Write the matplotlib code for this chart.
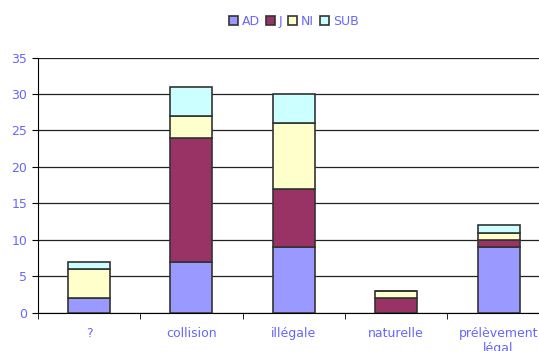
import matplotlib.pyplot as plt
import numpy as np

categories = ["?", "collision", "illégale", "naturelle", "prélèvement\nlégal"]
series = ["AD", "J", "NI", "SUB"]
ad = [2, 7, 9, 0, 9]
j = [0, 17, 8, 2, 1]
ni = [4, 3, 9, 1, 1]
sub = [1, 4, 4, 0, 1]
colors = ["#9999FF", "#993366", "#FFFFCC", "#CCFFFF"]
text_color = "#6666FF"

fig = plt.figure(figsize=(5.39, 3.51), dpi=100)
ax = fig.add_axes([0.070, 0.109, 0.950, 0.727])

x = np.arange(len(categories))
bottom = np.zeros(len(categories))
for name, vals, c in zip(series, [ad, j, ni, sub], colors):
    ax.bar(x, vals, 0.41, bottom=bottom, color=c, edgecolor="#333333",
           linewidth=1.2, label=name, zorder=3)
    bottom += np.array(vals)

ax.set_xlim(-0.5, len(categories) - 0.5)
ax.set_ylim(0, 35)
ax.set_yticks(range(0, 36, 5))
ax.yaxis.grid(True, color="#222222", linewidth=0.9, zorder=0)
ax.set_xticks(x)
ax.set_xticklabels(categories)
ax.set_xticks(np.arange(-0.5, len(categories), 1), minor=True)
ax.tick_params(axis="x", which="major", length=0, pad=10,
               labelsize=9, labelcolor=text_color)
ax.tick_params(axis="x", which="minor", length=4, direction="out")
ax.tick_params(axis="y", length=4, labelsize=9, labelcolor=text_color)
for s in ["top", "right"]:
    ax.spines[s].set_visible(False)
ax.spines["left"].set_color("black")
ax.spines["bottom"].set_color("black")

leg = fig.legend(loc="upper center", bbox_to_anchor=(0.545, 0.99), ncol=4,
                 frameon=False, fontsize=9, handlelength=0.7,
                 handleheight=0.7, handletextpad=0.3, columnspacing=0.5,
                 labelcolor=text_color)

fig.savefig("out.png", dpi=100)
plt.close(fig)
